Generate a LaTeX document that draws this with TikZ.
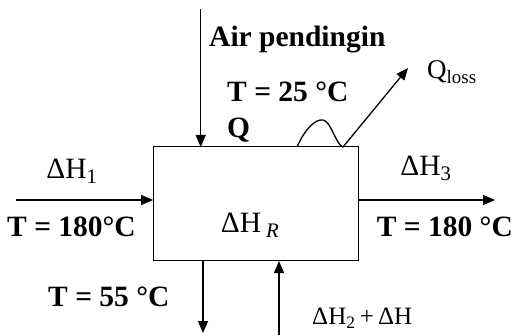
\documentclass[tikz,border=0pt]{standalone}
\usepackage{fontspec}
\setmainfont{Liberation Serif}
\usetikzlibrary{arrows.meta}
\begin{document}
\begin{tikzpicture}[x=1pt,y=1pt,
  flow/.style={line width=1.3pt,-{Triangle[length=12pt,width=10pt]}},
  lbl/.style={inner sep=0pt,font=\fontsize{29.5}{33}\selectfont},
  blbl/.style={inner sep=0pt,font=\fontsize{29.5}{33}\selectfont\bfseries}]
\useasboundingbox (0,0) rectangle (514,335);
% box
\node[draw,line width=1.3pt,minimum width=205pt,minimum height=114pt,inner sep=0pt,anchor=south west] (box) at (153,74) {};
\node[lbl] (dhr) at (250,110) {ΔH\,\textsubscript{\textit{R}}};
% coordinates
\coordinate (topin) at (200.7,326);
\coordinate (topend) at (200.7,188);
\coordinate (leftin) at (16,135);
\coordinate (leftend) at (153,135);
\coordinate (rightstart) at (358,135);
\coordinate (rightout) at (495,135);
\coordinate (botlstart) at (203,74);
\coordinate (botlout) at (203,2);
\coordinate (botrin) at (279,0);
\coordinate (botrend) at (279,74);
\coordinate (qs) at (297,188);
\coordinate (qv) at (343,188);
\coordinate (qout) at (408,267);
% arrows
\draw[flow] (topin) -- (topend);
\draw[flow] (leftin) -- (leftend);
\draw[flow] (rightstart) -- (rightout);
\draw[flow] (botlstart) -- (botlout);
\draw[flow] (botrin) -- (botrend);
\draw[flow] (qs) .. controls (305,206) and (315,216) .. (323,215) .. controls (331,214) and (336,190) .. (qv) -- (qout);
% labels
\node[blbl,anchor=west] (air) at (209,295) {Air pendingin};
\node[blbl,anchor=west] (t25) at (227,243) {T = 25 °C};
\node[blbl,anchor=west] (q) at (227,205) {Q};
\node[lbl,anchor=west,font=\fontsize{27}{30}\selectfont] (qloss) at (427,263) {Q\textsubscript{loss}};
\node[lbl] (dh1) at (72,164) {ΔH\textsubscript{1}};
\node[blbl,anchor=west] (t180l) at (7,108) {T = 180°C};
\node[lbl] (dh3) at (426,167) {ΔH\textsubscript{3}};
\node[blbl,anchor=east] (t180r) at (513,108) {T = 180 °C};
\node[blbl,anchor=west] (t55) at (48,38) {T = 55 °C};
\node[lbl,anchor=west,font=\fontsize{25}{28}\selectfont] (dh2) at (312,17) {ΔH\textsubscript{2}\,+\,ΔH};
\end{tikzpicture}
\end{document}
